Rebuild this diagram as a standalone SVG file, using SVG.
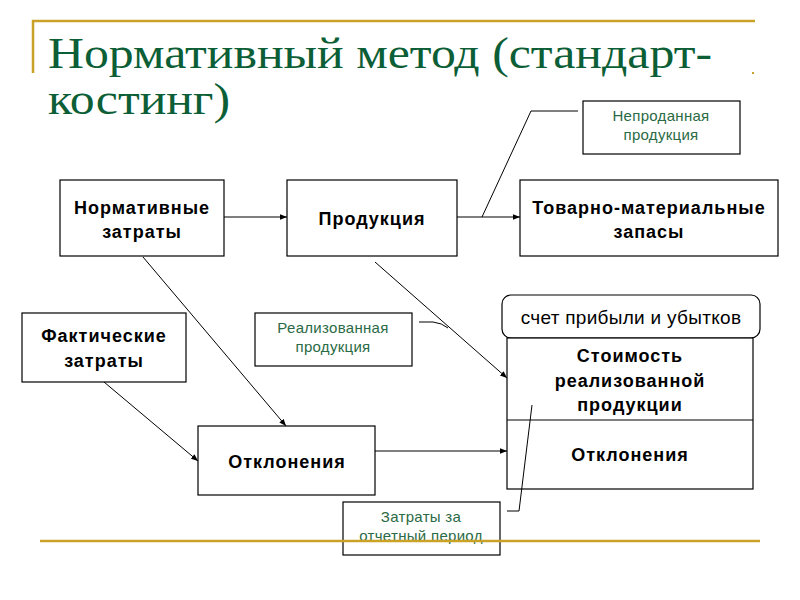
<svg xmlns="http://www.w3.org/2000/svg" width="800" height="600" viewBox="0 0 800 600">
<style>
.box{fill:#fff;stroke:#000;stroke-width:1.2}
.lbl{font-family:"Liberation Sans",Arial,sans-serif;font-weight:bold;font-size:18px;letter-spacing:1px;fill:#000;text-anchor:middle}
.note{font-family:"Liberation Sans",Arial,sans-serif;font-size:15px;letter-spacing:0.3px;fill:#2a6a45;text-anchor:middle}
.gold{stroke:#c9a227;stroke-width:2.5;fill:none}
.conn{stroke:#000;stroke-width:1;fill:none}
.title{font-family:"Liberation Serif","Times New Roman",serif;font-size:45px;fill:#0b5e35}
</style>
<defs>
<marker id="ah" viewBox="0 0 10 10" refX="10" refY="5" markerWidth="7" markerHeight="7" orient="auto" markerUnits="userSpaceOnUse">
<path d="M0,1 L10,5 L0,9 z" fill="#000"/>
</marker>
</defs>
<rect width="800" height="600" fill="#fff"/>
<g id="decor">
<path class="gold" d="M33,73 V21 H755"/>
<rect x="752" y="72" width="2" height="2" fill="#c9a227"/>
</g>
<g id="title">
<text class="title" x="48" y="68" textLength="664" lengthAdjust="spacingAndGlyphs">Нормативный метод (стандарт-</text>
<text class="title" x="48" y="114" textLength="182" lengthAdjust="spacingAndGlyphs">костинг)</text>
</g>
<g id="n-normative">
<rect class="box" x="60" y="180" width="164" height="76"/>
<text class="lbl" x="142" y="214">Нормативные</text>
<text class="lbl" x="142" y="238">затраты</text>
</g>
<g id="n-product">
<rect class="box" x="287" y="180" width="170" height="76"/>
<text class="lbl" x="372" y="225">Продукция</text>
</g>
<g id="n-tmz">
<rect class="box" x="520" y="180" width="258" height="76"/>
<text class="lbl" x="649" y="214">Товарно-материальные</text>
<text class="lbl" x="649" y="238">запасы</text>
</g>
<g id="n-unsold">
<rect class="box" x="583" y="101" width="157" height="53"/>
<text class="note" x="661" y="121">Непроданная</text>
<text class="note" x="661" y="140">продукция</text>
</g>
<g id="n-actual">
<rect class="box" x="22" y="313" width="164" height="69"/>
<text class="lbl" x="104" y="342">Фактические</text>
<text class="lbl" x="104" y="367">затраты</text>
</g>
<g id="n-sold">
<rect class="box" x="255" y="313" width="157" height="53"/>
<text class="note" x="333" y="333">Реализованная</text>
<text class="note" x="333" y="352">продукция</text>
</g>
<g id="n-pl">
<rect class="box" x="502" y="295" width="258" height="43" rx="9"/>
<text x="631" y="324" style="font-family:'Liberation Sans',Arial,sans-serif;font-size:19px;letter-spacing:0.3px;text-anchor:middle">счет прибыли и убытков</text>
</g>
<g id="n-plbody">
<rect class="box" x="507" y="338" width="246" height="151"/>
<line class="conn" x1="507" y1="420" x2="753" y2="420"/>
<text class="lbl" x="630" y="362">Стоимость</text>
<text class="lbl" x="630" y="387">реализованной</text>
<text class="lbl" x="630" y="411">продукции</text>
<text class="lbl" x="630" y="461">Отклонения</text>
</g>
<g id="n-dev">
<rect class="box" x="198" y="426" width="177" height="69"/>
<text class="lbl" x="287" y="468">Отклонения</text>
</g>
<g id="n-period">
<rect class="box" x="343" y="502" width="157" height="53"/>
<text class="note" x="421" y="522">Затраты за</text>
<text class="note" x="421" y="541">отчетный период</text>
</g>
<g id="decor-bottom">
<line class="gold" x1="40" y1="541" x2="760" y2="541"/>
</g>
<g id="connectors">
<line class="conn" x1="224" y1="217" x2="287" y2="217" marker-end="url(#ah)"/>
<line class="conn" x1="457" y1="217" x2="520" y2="217" marker-end="url(#ah)"/>
<line class="conn" x1="143" y1="257" x2="286" y2="426" marker-end="url(#ah)"/>
<line class="conn" x1="104" y1="382" x2="198" y2="461" marker-end="url(#ah)"/>
<line class="conn" x1="375" y1="262" x2="507" y2="378" marker-end="url(#ah)"/>
<line class="conn" x1="375" y1="451" x2="507" y2="451" marker-end="url(#ah)"/>
<path class="conn" d="M578,111 H531 L482,217"/>
<path class="conn" d="M419,322 H433 Q442,323 448,328"/>
<path class="conn" d="M507,511 H519 L532,405"/>
</g>
</svg>
